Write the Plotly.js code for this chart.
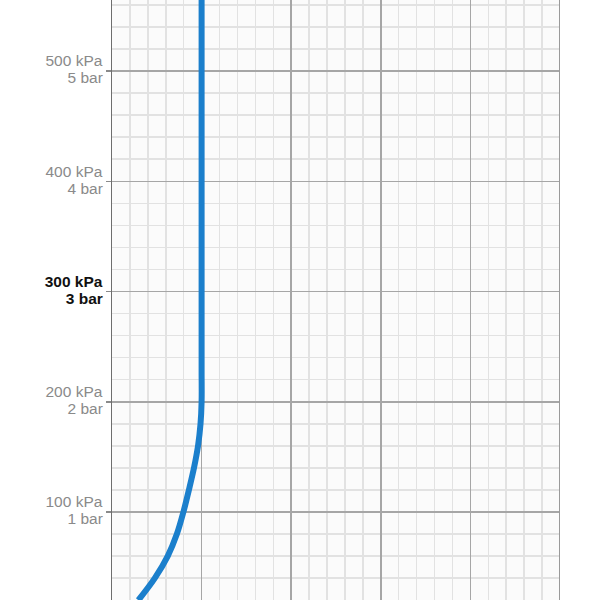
<!DOCTYPE html>
<html>
<head>
<meta charset="utf-8">
<script src="https://cdn.plot.ly/plotly-3.0.1.min.js"></script>
<style>
  html, body { margin: 0; padding: 0; background: #ffffff; }
  #chart { width: 600px; height: 600px; }
</style>
</head>
<body>
<div id="chart"></div>
<script>
// Flow characteristic: flow rises with inlet pressure, then levels off at 2 bar
const flow     = [0.294, 0.478, 0.622, 0.724, 0.797, 0.858, 0.915, 0.960, 0.988, 1.0, 1.0, 1.0, 1.0, 1.0, 1.0];
const pressure = [20,    40,    60,    80,    100,   120,   140,   160,   180,   200, 230, 300, 400, 500, 600];

// Pressure axis labels: kPa on the upper line, bar on the lower line; 3 bar emphasised
const pressureTicks = [100, 200, 300, 400, 500];
const kpaLabels = ['100 kPa', '200 kPa', '<b>300 kPa</b>', '400 kPa', '500 kPa'];
const barLabels = ['1 bar', '2 bar', '<b>3 bar</b>', '4 bar', '5 bar'];
const emphasisedTick = 300;

function colourLabels(labels) {
  return labels.map((t, i) =>
    pressureTicks[i] === emphasisedTick ? '<span style="color:#111111">' + t + '</span>' : t);
}

const curve = {
  x: flow,
  y: pressure,
  type: 'scatter',
  mode: 'lines',
  line: { color: '#1b7fcc', width: 6, shape: 'spline', smoothing: 1 },
  hoverinfo: 'skip'
};

// empty companion trace so the overlay axis (bar labels) is drawn
const barAxisHolder = {
  x: [],
  y: [],
  yaxis: 'y2',
  type: 'scatter',
  mode: 'lines',
  hoverinfo: 'skip'
};

const yRange = [20.2, 564.4];
const labelFont = { size: 15.5, color: '#8a8a8a', family: '"Liberation Sans", Arial, sans-serif' };

const layout = {
  width: 600,
  height: 600,
  margin: { l: 112, r: 40, t: 0, b: 0, pad: 0 },
  paper_bgcolor: '#ffffff',
  plot_bgcolor: '#fbfbfb',
  showlegend: false,
  font: { family: '"Liberation Sans", Arial, sans-serif' },
  xaxis: {
    range: [0, 5],
    tick0: 0,
    dtick: 1,
    showticklabels: false,
    ticks: '',
    showgrid: true,
    gridcolor: '#a6a6a6',
    gridwidth: 1.5,
    zeroline: false,
    showline: false,
    minor: { dtick: 0.2, showgrid: true, gridcolor: '#e2e2e2', gridwidth: 1.5 }
  },
  yaxis: {
    range: yRange,
    tickvals: pressureTicks,
    ticktext: colourLabels(kpaLabels),
    ticks: 'outside',
    ticklen: 5,
    tickwidth: 1.5,
    tickcolor: '#8a8a8a',
    ticklabelstandoff: 0,
    ticklabelshift: -10,
    tickfont: labelFont,
    showgrid: true,
    gridcolor: '#a6a6a6',
    gridwidth: 1.5,
    zeroline: false,
    showline: true,
    linecolor: '#6e6e6e',
    linewidth: 1.5,
    minor: { dtick: 20, tick0: 0, showgrid: true, gridcolor: '#e2e2e2', gridwidth: 1.5 }
  },
  yaxis2: {
    range: yRange,
    overlaying: 'y',
    anchor: 'x',
    side: 'left',
    tickvals: pressureTicks,
    ticktext: colourLabels(barLabels),
    ticks: 'outside',
    ticklen: 5,
    tickcolor: 'rgba(0,0,0,0)',
    ticklabelstandoff: 0,
    ticklabelshift: 7,
    tickfont: labelFont,
    showgrid: false,
    zeroline: false,
    showline: false
  },
  shapes: [
    { type: 'line', xref: 'x', yref: 'paper', x0: 5, x1: 5, y0: 0, y1: 1,
      line: { color: '#9a9a9a', width: 2 } }
  ]
};

Plotly.newPlot('chart', [curve, barAxisHolder], layout, { displayModeBar: false, staticPlot: true });
</script>
</body>
</html>
